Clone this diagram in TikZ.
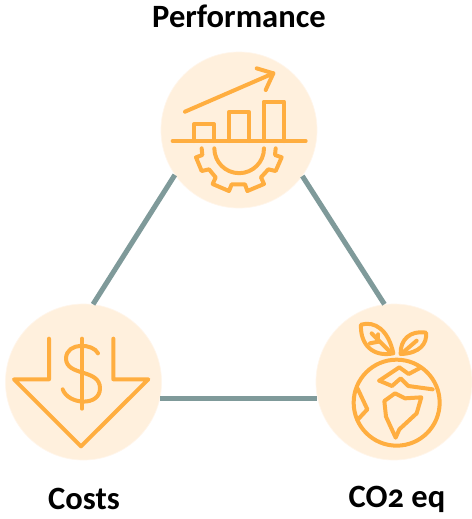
\documentclass[tikz,border=0pt]{standalone}
\usepackage{fontspec}
\setmainfont{Carlito}[Numbers=OldStyle]
\definecolor{icon}{HTML}{FFAE40}
\definecolor{disc}{HTML}{FFF0DD}
\definecolor{link}{HTML}{7F9A9A}
\tikzset{
  px/.style={x=0.75pt,y=-0.75pt},
  disc node/.style={circle,fill=disc,draw=disc!60!white,line width=0.5pt,minimum size=117pt,inner sep=0pt},
  link line/.style={draw=link,line width=3.8pt},
  lbl/.style={font=\bfseries\fontsize{24.4}{28}\selectfont,text=black,inner sep=0pt},
  ico/.style={draw=icon,line width=3pt,line cap=round,line join=round},
}
\begin{document}
\begin{tikzpicture}[px]
\useasboundingbox (0,0) rectangle (472,519);
\fill[white] (0,0) rectangle (472,519);
\node[disc node] (perf) at (239,130) {};
\node[disc node] (cost) at (83.5,382) {};
\node[disc node] (co2) at (394,382) {};
\draw[link line] (perf.215.7) -- (cost.83);
\draw[link line] (perf.324.5) -- (co2.97);
\draw[link line] (cost.-12.5) -- (co2.192.5);
\node[lbl] (tperf) at (239,16) {Performance};
\node[lbl] (tcost) at (84,499) {Costs};
\node[lbl] (tco2) at (397,499) {CO2 eq};
% performance icon (zoom coordinates)
\begin{scope}[x=0.25pt,y=-0.25pt,shift={(112.5pt,-37.5pt)}]
\draw[ico] (105,185) -- (370,70);
\draw[ico] (320,55) -- (370,70) -- (347,120);
\draw[ico] (68,273) -- (467,273);
\draw[ico] (132,273) -- (132,222) -- (192,222) -- (192,273);
\draw[ico] (236,273) -- (236,187) -- (298,187) -- (298,273);
\draw[ico] (341,273) -- (341,155) -- (402,155) -- (402,273);
\draw[ico] (193,295) arc[start angle=180,end angle=360,x radius=74.5,y radius=-74.5];
\draw[ico] (155,295) -- (157,315) -- (138,322) -- (155,363) -- (177,358) -- (197,382) -- (188,402) -- (237,423) -- (245,403) -- (285,403) -- (292,423) -- (342,402) -- (333,382) -- (355,358) -- (377,363) -- (395,322) -- (375,315) -- (377,295);
\end{scope}
% cost icon
\begin{scope}[x=0.25pt,y=-0.25pt,shift={(0pt,-225pt)}]
\draw[ico] (147,116) -- (147,238) -- (42,238) -- (243,439) -- (445,238) -- (340,238) -- (340,116);
\draw[ico] (246,116) -- (246,326);
\draw[ico] (294,160) .. controls (280,130) and (200,125) .. (198,175) .. controls (198,230) and (300,205) .. (300,265) .. controls (300,320) and (205,315) .. (188,268);
\end{scope}
% co2 icon
\begin{scope}[x=0.25pt,y=-0.25pt,shift={(232.5pt,-225pt)}]
\draw[ico] (260,308) circle[radius=129];
\draw[ico] (153,74) .. controls (195,62) and (235,90) .. (250,160) .. controls (190,172) and (150,135) .. (153,74) -- cycle;
\draw[ico] (185,100) -- (240,155);
\draw[ico] (205,103) -- (205,125);
\draw[ico] (180,130) -- (205,125);
\draw[ico] (348,98) .. controls (352,130) and (330,160) .. (272,162) .. controls (270,120) and (300,90) .. (348,98) -- cycle;
\draw[ico] (278,158) -- (320,122);
\draw[ico] (208,242) -- (268,202) -- (296,222) -- (328,205);
\draw[ico] (208,242) -- (246,258) -- (272,235) -- (295,258) -- (368,268);
\draw[ico] (223,303) -- (255,280) -- (285,295) -- (334,292) -- (320,340) -- (268,388) -- (257,413) -- (228,350) -- cycle;
\draw[ico] (143,266) -- (172,328) -- (146,356);
\end{scope}
\end{tikzpicture}
\end{document}
